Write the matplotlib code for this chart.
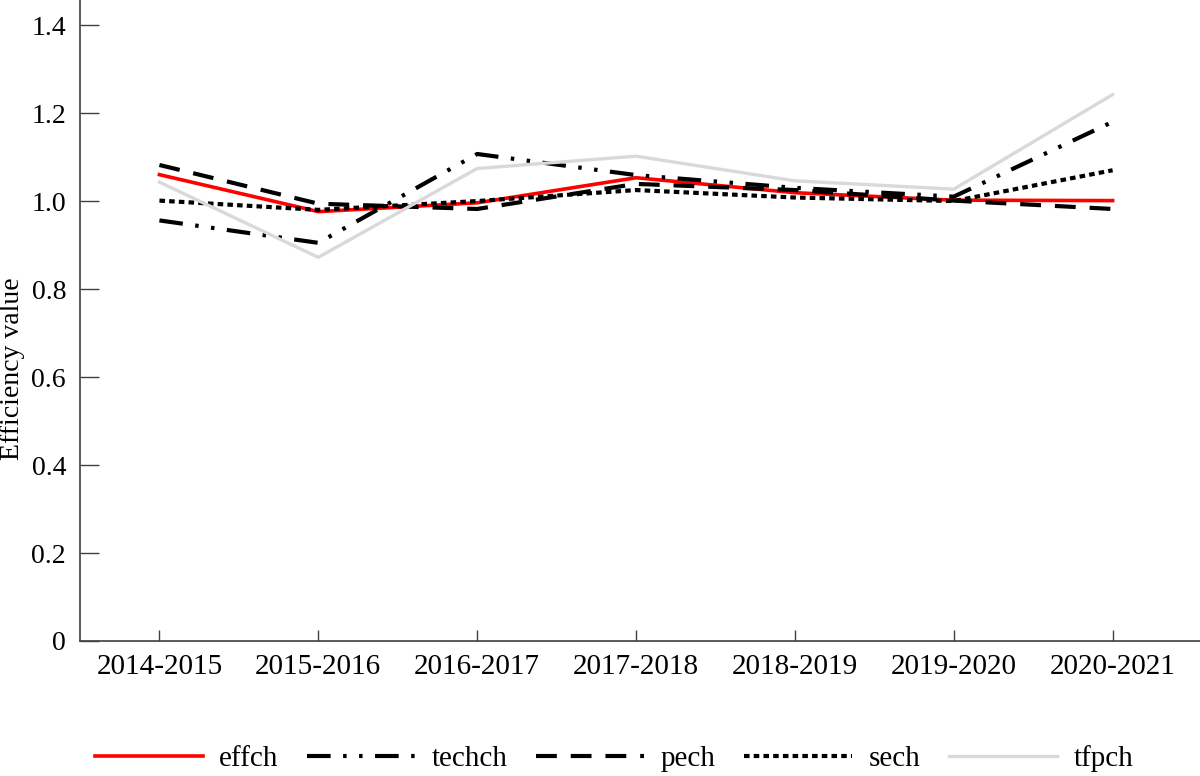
import matplotlib

matplotlib.use("Agg")
import matplotlib.pyplot as plt

plt.rcParams["font.family"] = ["Liberation Serif", "DejaVu Serif"]
plt.rcParams["lines.scale_dashes"] = False

periods = ["2014-2015", "2015-2016", "2016-2017", "2017-2018", "2018-2019", "2019-2020", "2020-2021"]
effch = [1.060, 0.976, 0.996, 1.053, 1.019, 1.002, 1.001]
techch = [0.956, 0.905, 1.107, 1.059, 1.030, 1.010, 1.180]
pech = [1.082, 0.994, 0.982, 1.039, 1.025, 1.001, 0.982]
sech = [1.001, 0.980, 1.000, 1.025, 1.008, 1.000, 1.070]
tfpch = [1.043, 0.872, 1.074, 1.102, 1.046, 1.027, 1.242]
y_ticks = [0, 0.2, 0.4, 0.6, 0.8, 1.0, 1.2, 1.4]
y_tick_labels = ["0", "0.2", "0.4", "0.6", "0.8", "1.0", "1.2", "1.4"]

series = [
    ("effch", effch, dict(color="#ff0000", linewidth=2.6, linestyle="-")),
    ("techch", techch, dict(color="black", linewidth=3.0, linestyle=(0, (17, 9, 2.5, 9, 2.5, 9)))),
    ("pech", pech, dict(color="black", linewidth=3.0, linestyle=(0, (15, 10)))),
    ("sech", sech, dict(color="black", linewidth=3.0, linestyle=(0, (4, 3)))),
    ("tfpch", tfpch, dict(color="#d9d9d9", linewidth=2.4, linestyle="-")),
]

fig = plt.figure(figsize=(12, 7.76), dpi=100)
ax = fig.add_axes([80 / 1200, 135 / 776, 1120 / 1200, 641 / 776])

xs = list(range(len(periods)))
handles = []
for name, values, style in series:
    (line,) = ax.plot(xs, values, label=name, **style)
    handles.append(line)

ax.set_xlim(-0.5, 6.55)
ax.set_ylim(0, 1.457)
ax.set_xticks(xs)
ax.set_xticklabels(periods, fontsize=21)
ax.set_yticks(y_ticks)
ax.set_yticklabels(y_tick_labels, fontsize=20)
ax.tick_params(axis="x", direction="in", length=8, width=1, pad=9, color="#404040")
ax.tick_params(axis="y", direction="in", length=14, width=1, pad=10, color="#404040")
for side in ["top", "right"]:
    ax.spines[side].set_visible(False)
for side in ["left", "bottom"]:
    ax.spines[side].set_color("#404040")
    ax.spines[side].set_linewidth(1.2)

ax.set_ylabel("Efficiency value", fontsize=20)
ax.yaxis.set_label_coords(-0.049, 0.425)

fig.legend(
    handles=handles,
    loc="center",
    bbox_to_anchor=(614 / 1200, 1 - 759 / 776),
    ncol=5,
    frameon=False,
    fontsize=21,
    handlelength=3.7,
    handletextpad=0.55,
    columnspacing=1.0,
    borderpad=0.2,
)

fig.savefig("out.png", dpi=100)
plt.close(fig)
